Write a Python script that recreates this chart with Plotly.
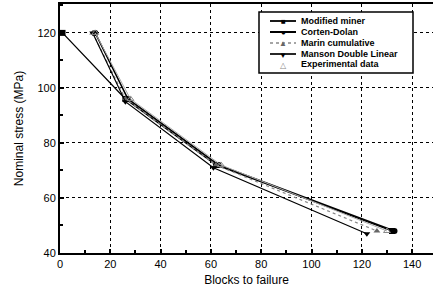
import plotly.graph_objects as go

stress = [120, 96, 72, 48]
modified_miner = [1, 26, 62, 132]
corten_dolan = [14, 27, 63, 133]
marin_cumulative = [13, 26, 62, 126]
manson_double_linear = [13, 26, 61, 122]
experimental = [14, 28, 64, 130]
manson_stress = [120, 95, 71, 47]

series_names = ["Modified miner", "Corten-Dolan", "Marin cumulative", "Manson Double Linear", "Experimental data"]

FONT = "Liberation Sans, Arial"
L, B, W, H = 60, 40, 373, 249  # plot area in px (left, bottom margins, width, height)

styles = [
    dict(line=dict(color="black", width=1.3), marker=dict(symbol="square", size=6, color="black"), sym="■"),
    dict(line=dict(color="black", width=1.5), marker=dict(symbol="circle", size=6, color="black"), sym="●"),
    dict(line=dict(color="#888", width=1.2, dash="dot"), marker=dict(symbol="triangle-up", size=6, color="#666"), sym="▲"),
    dict(line=dict(color="black", width=1.2), marker=dict(symbol="triangle-down", size=6, color="black"), sym="▼"),
    dict(line=dict(color="#aaa", width=1), marker=dict(symbol="triangle-up-open", size=6, color="#888"), sym="△"),
]
xs = [modified_miner, corten_dolan, marin_cumulative, manson_double_linear, experimental]
ys = [stress, stress, stress, manson_stress, stress]

fig = go.Figure()
for name, x, y, st in zip(series_names, xs, ys, styles):
    fig.add_trace(go.Scatter(x=x, y=y, name=name, mode="lines+markers",
                             line=st["line"], marker=st["marker"], showlegend=False))

axis_common = dict(showline=True, linecolor="black", linewidth=2, ticks="inside",
                   tickcolor="black", ticklen=4, tickwidth=1.5, showgrid=True, gridcolor="black",
                   griddash="dot", gridwidth=1, zeroline=False, automargin=False,
                   tickfont=dict(family=FONT, size=11, color="black"),
                   minor=dict(ticks="inside", ticklen=3, tickcolor="black", showgrid=False))
fig.update_xaxes(range=[0, 148.3], dtick=20, minor_dtick=10, tick0=0, mirror=True,
                 title=dict(text="Blocks to failure", font=dict(family=FONT, size=12, color="black"), standoff=6),
                 **axis_common)
fig.update_yaxes(range=[40, 130.5], dtick=20, minor_dtick=10, tick0=40, mirror=False,
                 title=dict(text="Nominal stress (MPa)", font=dict(family=FONT, size=12, color="black"), standoff=11),
                 **axis_common)

# custom compact legend
def px2paper(px, py):
    return (px - L) / W, (293 - B - py) / H

x0, y0 = px2paper(259, 12)
x1, y1 = px2paper(413, 73)
fig.add_shape(type="rect", xref="paper", yref="paper", x0=x0, y0=y0, x1=x1, y1=y1,
              line=dict(color="black", width=1.5), fillcolor="white", layer="above")
row_y = [21, 32, 43, 54, 64]
for name, st, ry in zip(series_names, styles, row_y):
    lx0, ly = px2paper(270, ry)
    lx1, _ = px2paper(296, ry)
    mx, _ = px2paper(283, ry)
    tx, _ = px2paper(299, ry)
    if name != "Experimental data":
        fig.add_shape(type="line", xref="paper", yref="paper", x0=lx0, x1=lx1, y0=ly, y1=ly,
                      line=dict(color=st["line"]["color"], width=st["line"]["width"] + 0.5,
                                dash=st["line"].get("dash", "solid")), layer="above")
    fig.add_annotation(xref="paper", yref="paper", x=mx, y=ly, text=st["sym"], showarrow=False,
                       font=dict(size=8, color=st["marker"]["color"]), xanchor="center", yanchor="middle")
    fig.add_annotation(xref="paper", yref="paper", x=tx, y=ly, text="<b>" + name + "</b>", showarrow=False,
                       font=dict(family=FONT, size=9, color="black"), xanchor="left", yanchor="middle")

fig.update_layout(width=433, height=293, margin=dict(l=L, r=0, t=4, b=B),
                  plot_bgcolor="white", paper_bgcolor="white", showlegend=False)
fig.write_html("out.html", config={"displayModeBar": False},
               post_script="document.body.style.margin='0';document.body.style.overflow='hidden';")
